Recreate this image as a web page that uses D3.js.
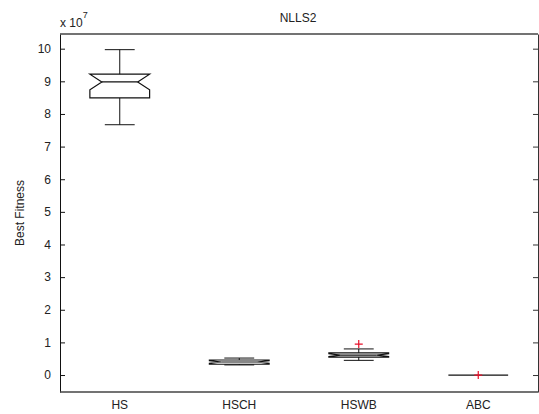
<!DOCTYPE html>
<html>
<head>
<meta charset="utf-8">
<script src="https://cdn.jsdelivr.net/npm/d3@7"></script>
<style>
  body { margin: 0; background: #fff; }
  text { font-family: "Liberation Sans", Arial, sans-serif; fill: #222; }
</style>
</head>
<body>
<svg id="chart"></svg>
<script>
// values in units of 1e7
const categories = ['HS', 'HSCH', 'HSWB', 'ABC'];
const whiskerLow = [7.67, 0.31, 0.45, 0.0];
const q1 = [8.49, 0.33, 0.55, 0.0];
const notchLow = [8.74, 0.36, 0.57, 0.0];
const median = [8.98, 0.40, 0.61, 0.0];
const notchHigh = [9.22, 0.44, 0.65, 0.0];
const q3 = [9.22, 0.46, 0.68, 0.0];
const whiskerHigh = [9.97, 0.52, 0.80, 0.0];
const outliers = [[], [], [0.95], [0.0]];
const yTicks = [0, 1, 2, 3, 4, 5, 6, 7, 8, 9, 10];

const width = 539, height = 414;
const margin = { top: 34, right: 1, bottom: 22, left: 60 };

const svg = d3.select('#chart').attr('width', width).attr('height', height);
const iw = width - margin.left - margin.right;
const ih = height - margin.top - margin.bottom;
const chart = svg.append('g').attr('transform', `translate(${margin.left},${margin.top})`);

const x = d3.scaleLinear().domain([0.5, 4.5]).range([0, iw]);
const y = d3.scaleLinear().domain([-0.52, 10.45]).range([ih, 0]);

const boxHalf = x(1.25) - x(1);
const capHalf = boxHalf / 2;
const notchIn = boxHalf * 0.6;

// axes: left and right ticks inward, frame
chart.append('g')
    .call(d3.axisLeft(y).tickValues(yTicks).tickSize(-5).tickPadding(9).tickSizeOuter(0))
    .call(g => g.select('.domain').attr('stroke', '#111'))
    .call(g => g.selectAll('.tick line').attr('stroke', '#111'))
    .call(g => g.selectAll('.tick text').style('font-size', '12px').style('fill', '#222'));

chart.append('g')
    .attr('transform', `translate(${iw},0)`)
    .call(d3.axisRight(y).tickValues(yTicks).tickSize(-5).tickFormat('').tickSizeOuter(0))
    .call(g => g.select('.domain').attr('stroke', '#333'))
    .call(g => g.selectAll('.tick line').attr('stroke', '#333'));

chart.append('line').attr('x1', 0).attr('x2', iw).attr('y1', 0).attr('y2', 0)
    .attr('stroke', '#444').attr('stroke-width', 1.5);
chart.append('line').attr('x1', 0).attr('x2', iw).attr('y1', ih).attr('y2', ih)
    .attr('stroke', '#444').attr('stroke-width', 1.5);

// category labels
chart.selectAll('.xlab')
    .data(categories)
    .enter()
    .append('text')
    .attr('class', 'xlab')
    .attr('x', (d, i) => x(i + 1))
    .attr('y', ih + 17)
    .attr('text-anchor', 'middle')
    .style('font-size', '12px')
    .text(d => d);

// boxes
const boxes = chart.selectAll('.box')
    .data(categories.map((c, i) => ({ c, i })))
    .enter()
    .append('g')
    .attr('class', 'box');

boxes.each(function (d) {
    const g = d3.select(this);
    const i = d.i;
    const cx = x(i + 1);
    const stroke = '#111';
    if (q3[i] - q1[i] <= 0) {
        g.append('line')
            .attr('x1', cx - boxHalf).attr('x2', cx + boxHalf)
            .attr('y1', y(median[i])).attr('y2', y(median[i]))
            .attr('stroke', stroke).attr('stroke-width', 1.2);
        return;
    }
    // whiskers
    [[q3[i], whiskerHigh[i]], [q1[i], whiskerLow[i]]].forEach(([a, b]) => {
        g.append('line').attr('x1', cx).attr('x2', cx)
            .attr('y1', y(a)).attr('y2', y(b)).attr('stroke', stroke);
        g.append('line').attr('x1', cx - capHalf).attr('x2', cx + capHalf)
            .attr('y1', y(b)).attr('y2', y(b)).attr('stroke', stroke);
    });
    const l = cx - boxHalf, r = cx + boxHalf;
    const pts = [
        [l, y(q1[i])], [l, y(notchLow[i])], [cx - notchIn, y(median[i])], [l, y(notchHigh[i])],
        [l, y(q3[i])], [r, y(q3[i])], [r, y(notchHigh[i])], [cx + notchIn, y(median[i])],
        [r, y(notchLow[i])], [r, y(q1[i])]
    ];
    g.append('path')
        .attr('d', d3.line()(pts) + 'Z')
        .attr('fill', 'none').attr('stroke', stroke).attr('stroke-width', 1.2);
    g.append('line')
        .attr('x1', cx - notchIn).attr('x2', cx + notchIn)
        .attr('y1', y(median[i])).attr('y2', y(median[i]))
        .attr('stroke', stroke).attr('stroke-width', 1.2);
});

// outliers as red plus markers
outliers.forEach((vals, i) => {
    vals.forEach(v => {
        const cx = x(i + 1), cy = y(v);
        chart.append('path')
            .attr('d', `M${cx - 4},${cy}H${cx + 4}M${cx},${cy - 4}V${cy + 4}`)
            .attr('stroke', '#e8102a').attr('stroke-width', 1.2).attr('fill', 'none');
    });
});

// title, exponent, y label
svg.append('text')
    .attr('x', 298).attr('y', 22)
    .attr('text-anchor', 'middle')
    .style('font-size', '12px')
    .text('NLLS2');

const expo = svg.append('text')
    .attr('x', 60).attr('y', 27)
    .style('font-size', '12px');
expo.append('tspan').text('x 10');
expo.append('tspan').attr('dy', -9).style('font-size', '9px').text('7');

svg.append('text')
    .attr('transform', `translate(24,${margin.top + ih / 2}) rotate(-90)`)
    .attr('text-anchor', 'middle')
    .style('font-size', '12px')
    .text('Best Fitness');
</script>
</body>
</html>
